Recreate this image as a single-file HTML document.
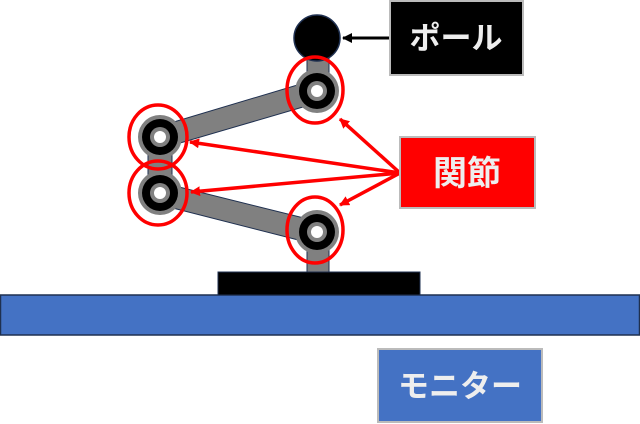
<!DOCTYPE html>
<html><head><meta charset="utf-8"><style>
html,body{margin:0;padding:0;background:#fff;width:640px;height:424px;overflow:hidden}
.t{font-family:"Liberation Sans","Noto Sans CJK JP",sans-serif;font-weight:bold}
</style></head><body>
<svg width="640" height="424" viewBox="0 0 640 424" xmlns="http://www.w3.org/2000/svg">
<defs>
<marker id="ar" markerWidth="10" markerHeight="10" refX="9" refY="5" orient="auto" markerUnits="userSpaceOnUse"><path d="M0,0 L10,5 L0,10 z" fill="#f00"/></marker>
<marker id="ab" markerWidth="10" markerHeight="10" refX="9" refY="5" orient="auto" markerUnits="userSpaceOnUse"><path d="M0,0 L10,5 L0,10 z" fill="#000"/></marker>
</defs>
<rect x="0.5" y="295" width="639" height="40" fill="#4472C4" stroke="#1F3050" stroke-width="1.5"/>
<rect x="218" y="272" width="202" height="23" fill="#000" stroke="#1F3050"/>
<rect x="307" y="55" width="22" height="36" fill="#808080" stroke="#1F3050"/>
<rect x="307" y="232" width="22" height="40" fill="#808080" stroke="#1F3050"/>
<rect x="148" y="137" width="24" height="56" fill="#808080" stroke="#1F3050"/>
<polygon points="157,127 314,80 320,102 163,148" fill="#808080" stroke="#1F3050"/>
<polygon points="163,183 320,222 314,244 157,204" fill="#808080" stroke="#1F3050"/>
<circle cx="317" cy="38" r="23" fill="#000" stroke="#1F3050" stroke-width="1.5"/>
<g fill="none">
<circle cx="317" cy="91" r="22" fill="#808080"/><circle cx="317" cy="91" r="18" fill="#000"/><circle cx="317" cy="91" r="10" fill="#808080"/><circle cx="317" cy="91" r="6" fill="#fff"/>
<circle cx="160" cy="137" r="22" fill="#808080"/><circle cx="160" cy="137" r="18" fill="#000"/><circle cx="160" cy="137" r="10" fill="#808080"/><circle cx="160" cy="137" r="6" fill="#fff"/>
<circle cx="160" cy="193" r="22" fill="#808080"/><circle cx="160" cy="193" r="18" fill="#000"/><circle cx="160" cy="193" r="10" fill="#808080"/><circle cx="160" cy="193" r="6" fill="#fff"/>
<circle cx="317" cy="232" r="22" fill="#808080"/><circle cx="317" cy="232" r="18" fill="#000"/><circle cx="317" cy="232" r="10" fill="#808080"/><circle cx="317" cy="232" r="6" fill="#fff"/>
<ellipse cx="315" cy="90" rx="28" ry="33" stroke="#fff" stroke-width="2" transform="translate(0,0) scale(1)" opacity="0"/>
<ellipse cx="315" cy="90" rx="28" ry="33" stroke="#f00" stroke-width="3.5"/>
<ellipse cx="158" cy="137" rx="29" ry="32" stroke="#f00" stroke-width="3.5"/>
<ellipse cx="158" cy="193" rx="29" ry="32" stroke="#f00" stroke-width="3.5"/>
<ellipse cx="315" cy="230" rx="28" ry="33" stroke="#f00" stroke-width="3.5"/>
</g>
<g stroke="#f00" stroke-width="3.5" fill="none">
<line x1="400" y1="173" x2="340" y2="119" marker-end="url(#ar)"/>
<line x1="400" y1="173" x2="190" y2="142" marker-end="url(#ar)"/>
<line x1="400" y1="173" x2="191" y2="192" marker-end="url(#ar)"/>
<line x1="400" y1="173" x2="340" y2="205" marker-end="url(#ar)"/>
</g>
<line x1="390" y1="38" x2="343" y2="38" stroke="#000" stroke-width="3" marker-end="url(#ab)"/>
<rect x="390" y="1" width="133" height="74" fill="#000" stroke="#bbb" stroke-width="2"/>
<text x="456" y="49" class="t" font-size="31" fill="#eee" text-anchor="middle">ポール</text>
<rect x="400" y="137" width="135" height="71" fill="#f00" stroke="#bbb" stroke-width="2"/>
<text x="467" y="185" class="t" font-size="34" fill="#eee" text-anchor="middle">関節</text>
<rect x="378" y="349" width="164" height="73" fill="#4472C4" stroke="#bbb" stroke-width="2"/>
<text x="460" y="397" class="t" font-size="31" fill="#eee" text-anchor="middle">モニター</text>
</svg>
</body></html>
